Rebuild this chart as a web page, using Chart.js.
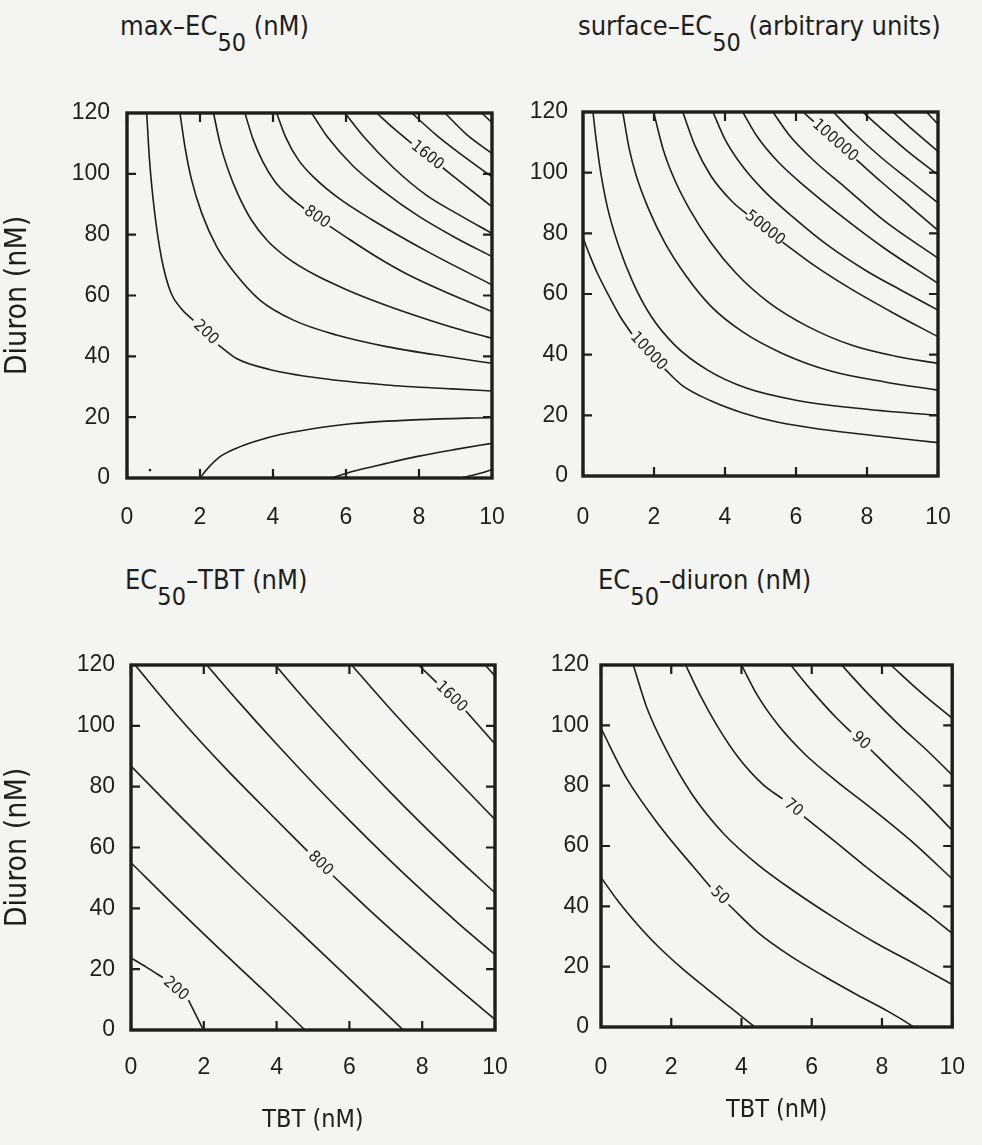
<!DOCTYPE html>
<html>
<head>
<meta charset="utf-8">
<script src="https://cdn.jsdelivr.net/npm/chart.js@4.4.1/dist/chart.umd.min.js"></script>
<style>
  html, body { overflow: hidden; }
  body { margin: 0; width: 982px; height: 1145px; background: #f4f4f2; position: relative;
         font-family: "DejaVu Sans Condensed", "Liberation Sans Narrow", sans-serif; color: #1e1e1e; }
  canvas { position: absolute; }
  .ttl { position: absolute; font-size: 27px; line-height: 30px; white-space: nowrap; }
  .ttl sub { font-size: 25px; vertical-align: -16px; line-height: 0; }
</style>
</head>
<body>
<div class="ttl" style="left:120px; top:11px">max–EC<sub>50</sub> (nM)</div>
<div class="ttl" style="left:578px; top:11px">surface–EC<sub>50</sub> (arbitrary units)</div>
<div class="ttl" style="left:125px; top:565px">EC<sub>50</sub>–TBT (nM)</div>
<div class="ttl" style="left:598px; top:565px">EC<sub>50</sub>–diuron (nM)</div>

<canvas id="c1" width="532" height="550" style="left:0; top:0"></canvas>
<canvas id="c2" width="462" height="550" style="left:520px; top:0"></canvas>
<canvas id="c3" width="535" height="585" style="left:0; top:560px"></canvas>
<canvas id="c4" width="472" height="585" style="left:520px; top:560px"></canvas>

<script>
const ink = '#1e1e1e';
const xTicks = [0, 2, 4, 6, 8, 10];
const yTicks = [0, 20, 40, 60, 80, 100, 120];

// contour lines as [TBT, diuron]; a null marks the gap under the label

// max-EC50 (nM)
const max200 = [[0.54,120],[0.62,104],[0.76,87],[0.95,72],[1.2,61],[1.5,55.5],[1.82,51.8],[2.15,null],[2.5,43.8],[3.0,39.3],[3.9,35.7],[5.3,32.8],[7.1,30.6],[8.9,29.3],[10,28.6]];
const max400 = [[1.45,120],[1.6,108],[1.77,98],[2.05,87],[2.46,76],[2.96,67.3],[3.64,58.5],[4.56,51.9],[5.74,47],[7.11,43.2],[8.94,39.6],[10,37.7]];
const max600 = [[2.37,120],[2.55,110],[2.78,101],[3.05,93],[3.4,85],[3.85,78],[4.4,72.3],[5.15,66.8],[6,62],[7,57.2],[8,53],[9,49.2],[10,45.9]];
const max800 = [[3.23,120],[3.45,111.5],[3.72,104],[4.05,97.5],[4.45,92.5],[4.85,88.6],[5.2,null],[5.55,82.8],[6.1,78.4],[6.8,73],[7.6,67.5],[8.6,61.8],[10,54.7]];
const max1000 = [[4.1,120],[4.35,112],[4.7,104.5],[5.15,98.5],[5.8,92],[6.7,85],[8.3,74],[10,63.5]];
const max1200 = [[5.06,120],[5.5,112],[6.2,102.5],[7,94.5],[8,86],[9,79],[10,72.8]];
const max1400 = [[5.97,120],[6.5,112],[7.3,102],[8.2,93],[9.1,86.5],[10,80.4]];
const max1600 = [[6.84,120],[7.3,115],[7.8,110],[8.2,null],[8.65,102],[9.3,95.8],[10,89.2]];
const max1800 = [[7.8,120],[8.5,112.5],[9.2,106],[10,99]];
const max2000 = [[8.71,120],[9.3,113],[10,106.7]];
const max2200 = [[9.72,120],[10,116.8]];
const maxLowA = [[2.0,0],[2.2,3],[2.55,7],[3.0,9.8],[3.5,12],[4.2,14.3],[5,16],[6.2,17.9],[8,19.2],[10,19.9]];
const maxLowB = [[5.6,0],[6.2,2.2],[7.1,4.8],[8,7.2],[9,9.4],[10,11.4]];
const maxLowC = [[9.15,0],[9.6,1.3],[10,2.7]];
const maxDot = [[0.63,2.6]];
const maxLines = [max200, max400, max600, max800, max1000, max1200, max1400, max1600, max1800, max2000, max2200, maxLowA, maxLowB, maxLowC];
const maxLabels = ['200', '', '', '800', '', '', '', '1600'];

// surface-EC50 (arbitrary units)
const surf1 = [[0,78.5],[0.2,72.5],[0.4,67],[0.7,60],[1.05,52.5],[1.38,46.8],[1.83,null],[2.3,35.3],[2.8,29.8],[3.6,24.8],[4.5,20.8],[5.5,17.7],[6.7,15.4],[8.3,13.2],[10,11]];
const surf2 = [[0.28,120],[0.38,110],[0.5,100],[0.7,88],[1.0,76],[1.4,64],[1.9,53],[2.6,43],[3.5,35],[4.6,29],[6,25],[8,22],[10,20]];
const surf3 = [[1.12,120],[1.3,108],[1.5,99],[1.85,88],[2.3,77],[2.9,66],[3.6,56],[4.5,47.5],[5.6,40.5],[7,34.5],[8.5,31],[10,28.3]];
const surf4 = [[1.99,120],[2.25,108],[2.55,98.5],[3,88],[3.6,77],[4.3,67],[5.2,57.5],[6.3,49.5],[7.6,43],[8.8,39.5],[10,37.1]];
const surf5 = [[2.81,120],[3.15,109],[3.6,99],[4.2,90.5],[4.62,86.3],[5.1,null],[5.62,77.1],[6.5,69.5],[7.5,62],[8.7,54],[10,45.9]];
const surf6 = [[3.66,120],[4.0,111],[4.5,102],[5.1,94],[5.9,85.5],[6.9,76],[8,67.5],[9,61],[10,54.7]];
const surf7 = [[4.5,120],[4.9,112],[5.5,103.5],[6.3,95],[7.3,85.5],[8.5,75],[10,63.5]];
const surf8 = [[5.35,120],[5.8,112.5],[6.5,104],[7.4,95],[8.5,84],[10,71.8]];
const surf9 = [[6.2,120],[6.5,116.8],[7.1,null],[7.7,104.3],[8.4,97],[9.2,89],[10,81]];
const surf10 = [[7.05,120],[7.6,113.5],[8.4,105],[9.2,97.5],[10,90]];
const surf11 = [[7.88,120],[8.5,113.5],[9.2,106.5],[10,99.3]];
const surf12 = [[8.73,120],[9.3,114],[10,107]];
const surf13 = [[9.67,120],[10,116]];
const surfLines = [surf1, surf2, surf3, surf4, surf5, surf6, surf7, surf8, surf9, surf10, surf11, surf12, surf13];
const surfLabels = ['10000', '', '', '', '50000', '', '', '', '100000'];

// EC50-TBT (nM)
const tbt200 = [[0,23.7],[0.43,20.6],[0.88,17.2],[1.22,null],[1.58,9.8],[1.99,0]];
const tbt400 = [[0,55],[1.2,40.8],[2.4,27],[3.6,13.5],[4.78,0]];
const tbt600 = [[0,86.8],[1.5,68.5],[3,50.8],[4.5,33.8],[6,16.8],[7.48,0]];
const tbt800 = [[0.11,120],[1.3,103],[2.6,86],[3.9,70.2],[4.85,58.8],[5.2,null],[5.55,50.7],[6.5,40],[7.8,26],[9,13.5],[10,3.5]];
const tbt1000 = [[2.08,120],[3,107.3],[4,94],[5,81.2],[6,68.9],[7,57.1],[8,45.8],[9,35],[10,24.8]];
const tbt1200 = [[3.96,120],[5,105.6],[6,92.4],[7,79.7],[8,67.6],[9,56.1],[10,45.1]];
const tbt1400 = [[6.06,120],[7,107.2],[8,94.2],[9,81.6],[10,69.2]];
const tbt1600 = [[7.9,120],[8.4,114.2],[8.78,null],[9.2,104.9],[10,94]];
const tbt1800 = [[9.73,120],[10,116.4]];
const tbtLines = [tbt200, tbt400, tbt600, tbt800, tbt1000, tbt1200, tbt1400, tbt1600, tbt1800];
const tbtLabels = ['200', '', '', '800', '', '', '', '1600'];

// EC50-diuron (nM)
const diu40 = [[0,49.6],[0.5,41.5],[1,34.5],[1.6,27],[2.3,19.5],[3,12.8],[3.7,6.3],[4.35,0.3]];
const diu50 = [[0,99],[0.73,82.4],[1.66,66.8],[2.6,53.5],[3.12,46.4],[3.37,null],[3.63,40.6],[4.47,31.3],[5.4,23.5],[6.34,16.9],[7.3,10.6],[8.2,5],[8.8,0.8],[8.9,0]];
const diu60 = [[0.92,120],[1.3,106],[1.85,92],[2.6,77],[3.5,64],[4.5,53.5],[5.5,45],[6.6,36.5],[7.8,28],[9,20.5],[10,14.1]];
const diu70 = [[2.41,120],[2.8,110.5],[3.3,100],[3.9,89.5],[4.6,80.5],[5.17,75.6],[5.46,null],[5.78,69.7],[6.5,63],[7.5,53.5],[8.5,44.5],[9.3,37.5],[10,31]];
const diu80 = [[4.0,120],[4.45,110],[5.05,100],[5.8,90.5],[6.7,81.5],[7.7,72.5],[8.8,62],[10,49.1]];
const diu90 = [[5.4,120],[6,111.5],[6.7,102.5],[7.12,97.8],[7.4,null],[7.68,91.9],[8.3,84.8],[9.2,74.8],[10,65.2]];
const diu100 = [[6.85,120],[7.6,110.5],[8.5,100],[9.3,91.5],[10,83.5]];
const diu110 = [[8.25,120],[9.1,111],[10,102.3]];
const diuLines = [diu40, diu50, diu60, diu70, diu80, diu90, diu100, diu110];
const diuLabels = ['', '50', '', '70', '', '90'];

const tickFont = { family: '"Liberation Sans", Arial, sans-serif', size: 23 };
const yTitleFont = { family: '"DejaVu Sans Condensed", "Liberation Sans Narrow", sans-serif', size: 30 };
const xTitleFont = { family: '"DejaVu Sans Condensed", "Liberation Sans Narrow", sans-serif', size: 25 };

function contourSets(lines, labels) {
  return lines.map((pts, i) => ({
    data: pts.map(p => ({ x: p[0], y: p[1] })),
    contourLabel: labels[i] || '',
    showLine: true,
    borderColor: ink,
    borderWidth: 1.6,
    pointRadius: 0,
    cubicInterpolationMode: 'monotone',
    spanGaps: false
  }));
}

// frame plus inward tick marks on all four sides
const framePlugin = {
  id: 'frame',
  afterDatasetsDraw(chart) {
    const { ctx, chartArea: a } = chart;
    const xs = chart.scales.x, ys = chart.scales.y;
    ctx.save();
    ctx.strokeStyle = ink;
    ctx.lineWidth = 2.2;
    ctx.beginPath();
    xs.ticks.forEach(t => {
      const px = xs.getPixelForValue(t.value);
      ctx.moveTo(px, a.bottom); ctx.lineTo(px, a.bottom - 9);
      ctx.moveTo(px, a.top); ctx.lineTo(px, a.top + 9);
    });
    ys.ticks.forEach(t => {
      const py = ys.getPixelForValue(t.value);
      ctx.moveTo(a.left, py); ctx.lineTo(a.left + 9, py);
      ctx.moveTo(a.right, py); ctx.lineTo(a.right - 9, py);
    });
    ctx.stroke();
    ctx.lineWidth = 3.4;
    ctx.strokeRect(a.left, a.top, a.right - a.left, a.bottom - a.top);
    ctx.restore();
  }
};

// contour value written in the gap of its line
const labelPlugin = {
  id: 'contourLabels',
  afterDatasetsDraw(chart) {
    const ctx = chart.ctx;
    const xs = chart.scales.x, ys = chart.scales.y;
    chart.data.datasets.forEach(ds => {
      if (!ds.contourLabel) return;
      const k = ds.data.findIndex(p => p.y === null);
      if (k < 1) return;
      const p1 = ds.data[k - 1], p2 = ds.data[k + 1];
      const x1 = xs.getPixelForValue(p1.x), y1 = ys.getPixelForValue(p1.y);
      const x2 = xs.getPixelForValue(p2.x), y2 = ys.getPixelForValue(p2.y);
      ctx.save();
      ctx.translate((x1 + x2) / 2, (y1 + y2) / 2);
      ctx.rotate(Math.atan2(y2 - y1, x2 - x1));
      ctx.fillStyle = ink;
      ctx.font = '16px "DejaVu Sans Condensed", "Liberation Sans Narrow", sans-serif';
      ctx.textAlign = 'center';
      ctx.textBaseline = 'middle';
      ctx.fillText(ds.contourLabel, 0, 0);
      ctx.restore();
    });
  }
};

function panel(id, sets, box) {
  return new Chart(document.getElementById(id), {
    type: 'scatter',
    data: { datasets: sets },
    options: {
      responsive: false,
      animation: false,
      events: [],
      layout: { padding: { top: box.top, right: box.right, left: 0, bottom: 0 }, autoPadding: false },
      plugins: { legend: { display: false }, tooltip: { enabled: false } },
      scales: {
        x: {
          type: 'linear', min: 0, max: 10,
          afterBuildTicks: s => { s.ticks = xTicks.map(v => ({ value: v })); },
          afterFit: s => { s.height = box.xh; },
          grid: { display: false, drawTicks: false },
          border: { display: false },
          ticks: { padding: box.xpad, color: ink, font: tickFont, maxRotation: 0 },
          title: box.xtitle
            ? { display: true, text: box.xtitle, color: ink, font: xTitleFont, padding: { top: 0, bottom: box.xtpad } }
            : { display: false }
        },
        y: {
          type: 'linear', min: 0, max: 120,
          afterBuildTicks: s => { s.ticks = yTicks.map(v => ({ value: v })); },
          afterFit: s => { s.width = box.yw; },
          grid: { display: false, drawTicks: false },
          border: { display: false },
          ticks: { padding: box.ypad, color: ink, font: tickFont },
          title: box.ytitle
            ? { display: true, text: box.ytitle, color: ink, font: yTitleFont, padding: { top: 0, bottom: 0 } }
            : { display: false }
        }
      }
    },
    plugins: [framePlugin, labelPlugin]
  });
}

const maxSets = contourSets(maxLines, maxLabels);
maxSets.push({
  data: maxDot.map(p => ({ x: p[0], y: p[1] })),
  showLine: false, pointRadius: 1.3, pointBorderWidth: 0, pointBackgroundColor: ink
});

panel('c1', maxSets, { top: 113, right: 40, yw: 127, xh: 72, xpad: 26, ypad: 17, ytitle: 'Diuron (nM)' });
panel('c2', contourSets(surfLines, surfLabels), { top: 112, right: 44, yw: 63, xh: 74, xpad: 28, ypad: 15 });
panel('c3', contourSets(tbtLines, tbtLabels), { top: 105, right: 40, yw: 131, xh: 115, xpad: 24, ypad: 16, ytitle: 'Diuron (nM)', xtitle: 'TBT (nM)', xtpad: 10 });
panel('c4', contourSets(diuLines, diuLabels), { top: 105, right: 39, yw: 81, xh: 118, xpad: 27, ypad: 12, xtitle: 'TBT (nM)', xtpad: 20 });
</script>
</body>
</html>
